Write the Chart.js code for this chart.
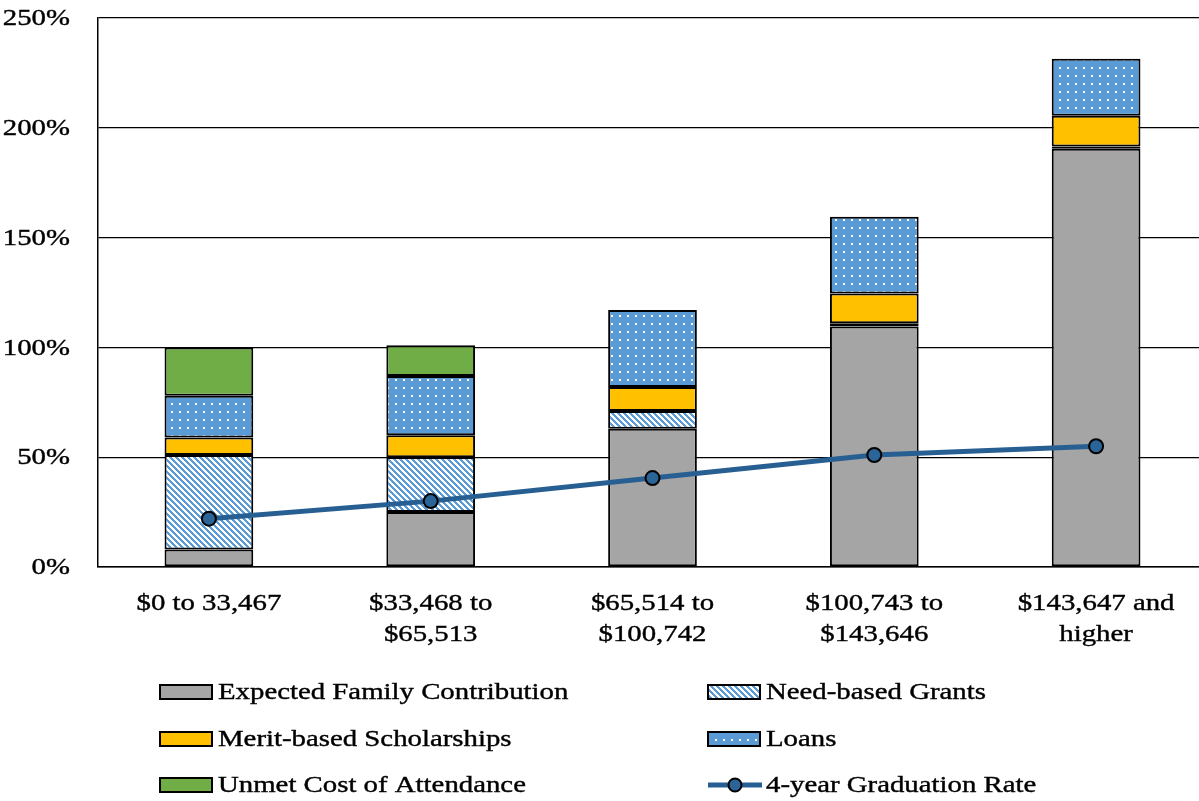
<!DOCTYPE html>
<html>
<head>
<meta charset="utf-8">
<script src="https://cdn.jsdelivr.net/npm/chart.js@4"></script>
<style>
  html, body { margin: 0; padding: 0; background: #fff; overflow: hidden; }
  canvas { display: block; }
</style>
</head>
<body>
<canvas id="aidChart" width="1199" height="801"></canvas>
<script>
// income brackets
const categories = [
  '$0 to 33,467',
  ['$33,468 to', '$65,513'],
  ['$65,514 to', '$100,742'],
  ['$100,743 to', '$143,646'],
  ['$143,647 and', 'higher']
];

// share of cost of attendance, %
const familyContribution = [8, 25, 63, 109.5, 190.5];
const needGrants = [43, 25, 8, 1.5, 1];
const meritScholarships = [8, 10, 11, 13.5, 14];
const loans = [19, 27, 35, 35, 26];
const unmetCost = [22, 14, null, null, null];
const gradRate = [22, 30, 40.5, 51, 55];

const yTicks = [0, 50, 100, 150, 200, 250];

const FONT = '24px "Liberation Serif", "Times New Roman", serif';
const STRETCH = 1.2; // the source text is set wide
const BLUE = '#5B9BD5';
const PLOT_RIGHT = 1207; // plot area runs slightly past the right edge in the source

// diagonal stripes (need-based grants)
function stripePattern() {
  const n = 6;
  const c = document.createElement('canvas');
  c.width = n; c.height = n;
  const g = c.getContext('2d');
  g.fillStyle = '#fff';
  g.fillRect(0, 0, n, n);
  g.fillStyle = BLUE;
  for (let y = 0; y < n; y++) {
    for (let x = 0; x < n; x++) {
      if (((x - y) % n + n) % n < 3) g.fillRect(x, y, 1, 1);
    }
  }
  return g.createPattern(c, 'repeat');
}

// blue with white dots (loans)
function dotPattern() {
  const c = document.createElement('canvas');
  c.width = 8; c.height = 8;
  const g = c.getContext('2d');
  g.fillStyle = BLUE;
  g.fillRect(0, 0, 8, 8);
  g.fillStyle = '#fff';
  g.fillRect(3, 3, 2, 2);
  return g.createPattern(c, 'repeat');
}

const ctx = document.getElementById('aidChart').getContext('2d');

function barSet(label, data, fill) {
  return {
    type: 'bar',
    label: label,
    data: data,
    backgroundColor: fill,
    borderColor: '#000',
    borderWidth: 2,
    borderSkipped: false,
    stack: 'aid',
    order: 1,
    barPercentage: 0.4,
    categoryPercentage: 1
  };
}

function wideText(c, text, x, y) {
  c.save();
  c.scale(STRETCH, 1);
  c.lineWidth = 0.4;
  c.strokeStyle = c.fillStyle;
  c.fillText(text, x / STRETCH, y);
  c.strokeText(text, x / STRETCH, y);
  c.restore();
}

// stretch the plot area to the right
const widenPlot = {
  id: 'widenPlot',
  afterLayout(chart) {
    const area = chart.chartArea;
    area.right = PLOT_RIGHT;
    area.width = area.right - area.left;
    const xs = chart.scales.x;
    xs.right = PLOT_RIGHT;
    xs.width = xs.right - xs.left;
    xs.configure();
  }
};

// tick labels, drawn wide like the source
const axisLabels = {
  id: 'axisLabels',
  afterDraw(chart) {
    const c = chart.ctx;
    const xs = chart.scales.x, ys = chart.scales.y;
    c.save();
    c.font = FONT;
    c.fillStyle = '#000';
    c.textBaseline = 'middle';
    c.textAlign = 'right';
    ys.ticks.forEach(t => {
      wideText(c, t.value + '%', 70, ys.getPixelForValue(t.value) + 1);
    });
    c.textAlign = 'center';
    chart.data.labels.forEach((lab, i) => {
      const lines = Array.isArray(lab) ? lab : [lab];
      const cx = xs.getPixelForTick(i);
      lines.forEach((ln, j) => {
        wideText(c, ln, cx, xs.top + 37 + j * 31);
      });
    });
    c.restore();
  }
};

// two-column legend drawn under the axis
const gridLegend = {
  id: 'gridLegend',
  afterDraw(chart) {
    const c = chart.ctx;
    const cols = [160, 708];
    const rows = [692, 739, 785];
    const boxW = 52, boxH = 14;
    c.save();
    c.font = FONT;
    c.textBaseline = 'middle';
    c.textAlign = 'left';
    chart.data.datasets.forEach((ds, i) => {
      const x = cols[i % 2];
      const y = rows[Math.floor(i / 2)];
      if (ds.type === 'line') {
        c.strokeStyle = ds.borderColor;
        c.lineWidth = ds.borderWidth;
        c.beginPath();
        c.moveTo(x, y);
        c.lineTo(x + boxW + 2, y);
        c.stroke();
        c.beginPath();
        c.arc(x + boxW / 2 + 1, y, 6.5, 0, Math.PI * 2);
        c.fillStyle = ds.pointBackgroundColor;
        c.fill();
        c.lineWidth = 2;
        c.strokeStyle = '#000';
        c.stroke();
      } else {
        c.fillStyle = ds.backgroundColor;
        c.fillRect(x, y - boxH / 2, boxW, boxH);
        c.lineWidth = 2;
        c.strokeStyle = '#000';
        c.strokeRect(x, y - boxH / 2, boxW, boxH);
      }
      c.fillStyle = '#000';
      wideText(c, ds.label, x + boxW + 6, y + 1);
    });
    c.restore();
  }
};

const chart = new Chart(ctx, {
  data: {
    labels: categories,
    datasets: [
      barSet('Expected Family Contribution', familyContribution, '#A5A5A5'),
      barSet('Need-based Grants', needGrants, stripePattern()),
      barSet('Merit-based Scholarships', meritScholarships, '#FFC000'),
      barSet('Loans', loans, dotPattern()),
      barSet('Unmet Cost of Attendance', unmetCost, '#70AD47'),
      {
        type: 'line',
        label: '4-year Graduation Rate',
        data: gradRate,
        borderColor: '#285F92',
        borderWidth: 5,
        pointRadius: 7,
        pointBackgroundColor: '#2B6496',
        pointBorderColor: '#000',
        pointBorderWidth: 2,
        stack: 'grad',
        order: 0,
        tension: 0
      }
    ]
  },
  options: {
    responsive: false,
    animation: false,
    layout: { padding: { top: 18, bottom: 150, left: 0, right: 0 } },
    plugins: {
      legend: { display: false },
      tooltip: { enabled: false }
    },
    scales: {
      x: {
        stacked: true,
        afterFit(scale) { scale.height = 84; },
        grid: { display: false },
        border: { display: true, color: '#000', width: 1.5 },
        ticks: { display: false }
      },
      y: {
        stacked: true,
        min: 0,
        max: 250,
        afterFit(scale) { scale.width = 98; },
        afterBuildTicks(scale) { scale.ticks = yTicks.map(v => ({ value: v })); },
        grid: { color: '#000', lineWidth: 1.3, drawTicks: false },
        border: { display: true, color: '#000', width: 1.5 },
        ticks: { display: false }
      }
    }
  },
  plugins: [widenPlot, axisLabels, gridLegend]
});
</script>
</body>
</html>
